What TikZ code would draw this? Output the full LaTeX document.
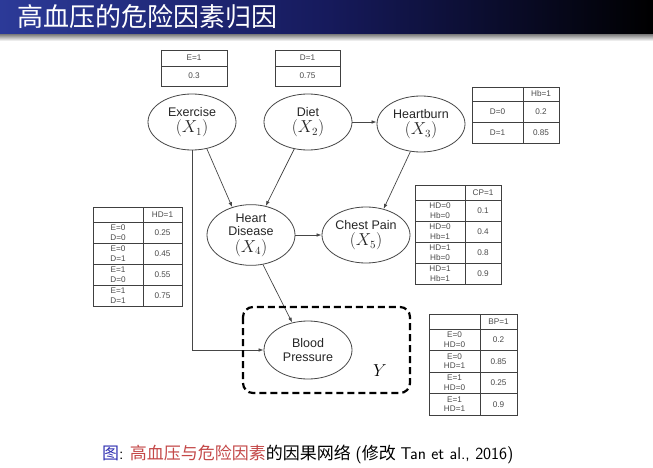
\documentclass[tikz,border=0pt]{standalone}
\usepackage{fontspec}
\setmainfont{Liberation Sans}
\newfontfamily\cjk{Noto Sans CJK SC}
\usetikzlibrary{shapes.geometric,arrows.meta}
\definecolor{tbA}{RGB}{44,58,152}
\definecolor{tbB}{RGB}{22,26,92}
\definecolor{lineC}{RGB}{70,70,70}
\definecolor{txtC}{RGB}{75,75,75}
\definecolor{capBlue}{RGB}{51,51,179}
\definecolor{capRed}{RGB}{196,72,72}
\newcommand{\tabgrid}[5]{\draw[tab] (#1,#4) rectangle (#2,#5); \draw[tab] (#3,#4) -- (#3,#5);}
\newcommand{\mx}[1]{{\fontsize{16}{15}\selectfont$#1$}}
\begin{document}
\begin{tikzpicture}[x=1pt,y=-1pt,
  ell/.style={ellipse, draw=lineC, line width=0.8pt, minimum width=88pt, minimum height=56pt, inner sep=0pt, align=center, text=black!85, font=\fontsize{12.5}{13.5}\selectfont},
  tab/.style={draw=black!75, line width=0.7pt},
  tt/.style={align=center, text=txtC, inner sep=0pt, font=\fontsize{8.2}{9.6}\selectfont},
  arr/.style={draw=lineC, line width=0.7pt, -{Latex[length=5pt,width=3.6pt]}}]
\useasboundingbox (0,0) rectangle (653,468);
\fill[white] (0,0) rectangle (653,468);
% title bar
\shade[left color=tbA, right color=black, middle color=tbB] (0,0) rectangle (653,35);
\shade[top color=black!45, bottom color=white] (0,35) rectangle (653,41);
\node[anchor=west, text=white, inner sep=0pt, font=\cjk\fontsize{26}{28}\selectfont] (title) at (17,17) {高血压的危险因素归因};

% ellipses
\node[ell] (ex) at (192,122) {Exercise\\[3pt]\mx{(X_1)}};
\node[ell] (dt) at (308,122) {Diet\\[3pt]\mx{(X_2)}};
\node[ell] (hb) at (421,124) {Heartburn\\[3pt]\mx{(X_3)}};
\node[ell] (hd) at (251,235) {Heart\\Disease\\[3pt]\mx{(X_4)}};
\node[ell] (cp) at (366,235) {Chest Pain\\[3pt]\mx{(X_5)}};
\node[ell, minimum height=58pt] (bp) at (308,350) {Blood\\Pressure};

% edges
\draw[arr] (ex.-61) -- (hd.124);
\draw[arr] (dt.-117) -- (hd.63);
\draw[arr] (dt.east) -- (hb.west |- dt.east);
\draw[arr] (hb.-111) -- (cp.56);
\draw[arr] (hd.east) -- (cp.west);
\draw[arr] (hd.-68) -- (bp.120);
\draw[arr] (ex.south) |- (bp.west);

% Y box
\draw[line width=2.2pt, dash pattern=on 7pt off 4pt, rounded corners=10pt] (243,307) rectangle (410,393);
\node[font=\fontsize{16.5}{18}\selectfont] (ylab) at (380,371) {$Y$};

% E table
\tabgrid{161}{227}{161}{50}{86}
\draw[tab] (161,66) -- (227,66);
\node[tt] (e1) at (194,58) {E=1};
\node[tt] (e2) at (194,76) {0.3};
% D table
\tabgrid{275}{340}{275}{50}{86}
\draw[tab] (275,66) -- (340,66);
\node[tt] (d1) at (307.5,58) {D=1};
\node[tt] (d2) at (307.5,76) {0.75};
% Hb table
\tabgrid{472}{559}{523}{87}{143}
\draw[tab] (472,101) -- (559,101) (472,122) -- (559,122);
\node[tt] (hbh) at (541,94) {Hb=1};
\node[tt] (hbr1) at (497.5,111.5) {D=0};
\node[tt] (hbv1) at (541,111.5) {0.2};
\node[tt] (hbr2) at (497.5,132.5) {D=1};
\node[tt] (hbv2) at (541,132.5) {0.85};
% HD table
\tabgrid{93}{182}{143}{207}{306}
\foreach \yy in {222,243,264,285} \draw[tab] (93,\yy) -- (182,\yy);
\node[tt] (hdh) at (162.5,214.5) {HD=1};
\node[tt] (hdr1) at (118,232.5) {E=0\\D=0}; \node[tt] (hdv1) at (162.5,232.5) {0.25};
\node[tt] (hdr2) at (118,253.5) {E=0\\D=1}; \node[tt] (hdv2) at (162.5,253.5) {0.45};
\node[tt] (hdr3) at (118,274.5) {E=1\\D=0}; \node[tt] (hdv3) at (162.5,274.5) {0.55};
\node[tt] (hdr4) at (118,295.5) {E=1\\D=1}; \node[tt] (hdv4) at (162.5,295.5) {0.75};
% CP table
\tabgrid{415}{501}{465}{185}{284}
\foreach \yy in {200,221,242,263} \draw[tab] (415,\yy) -- (501,\yy);
\node[tt] (cph) at (483,192.5) {CP=1};
\node[tt] (cpr1) at (440,210.5) {HD=0\\Hb=0}; \node[tt] (cpv1) at (483,210.5) {0.1};
\node[tt] (cpr2) at (440,231.5) {HD=0\\Hb=1}; \node[tt] (cpv2) at (483,231.5) {0.4};
\node[tt] (cpr3) at (440,252.5) {HD=1\\Hb=0}; \node[tt] (cpv3) at (483,252.5) {0.8};
\node[tt] (cpr4) at (440,273.5) {HD=1\\Hb=1}; \node[tt] (cpv4) at (483,273.5) {0.9};
% BP table
\tabgrid{429}{517}{480}{314}{415}
\foreach \yy in {329,350.5,372,393.5} \draw[tab] (429,\yy) -- (517,\yy);
\node[tt] (bph) at (498.5,321.5) {BP=1};
\node[tt] (bpr1) at (454.5,339.75) {E=0\\HD=0}; \node[tt] (bpv1) at (498.5,339.75) {0.2};
\node[tt] (bpr2) at (454.5,361.25) {E=0\\HD=1}; \node[tt] (bpv2) at (498.5,361.25) {0.85};
\node[tt] (bpr3) at (454.5,382.75) {E=1\\HD=0}; \node[tt] (bpv3) at (498.5,382.75) {0.25};
\node[tt] (bpr4) at (454.5,404.25) {E=1\\HD=1}; \node[tt] (bpv4) at (498.5,404.25) {0.9};

% caption
\node[anchor=base west, inner sep=0pt, font=\fontsize{17}{19}\selectfont] (cap) at (102,459)
 {{\cjk\color{capBlue}图}{\sffamily:} {\cjk\color{capRed}高血压与危险因素}{\cjk 的因果网络} {\sffamily(}{\cjk 修改} {\sffamily Tan et al., 2016)}};
\end{tikzpicture}
\end{document}
